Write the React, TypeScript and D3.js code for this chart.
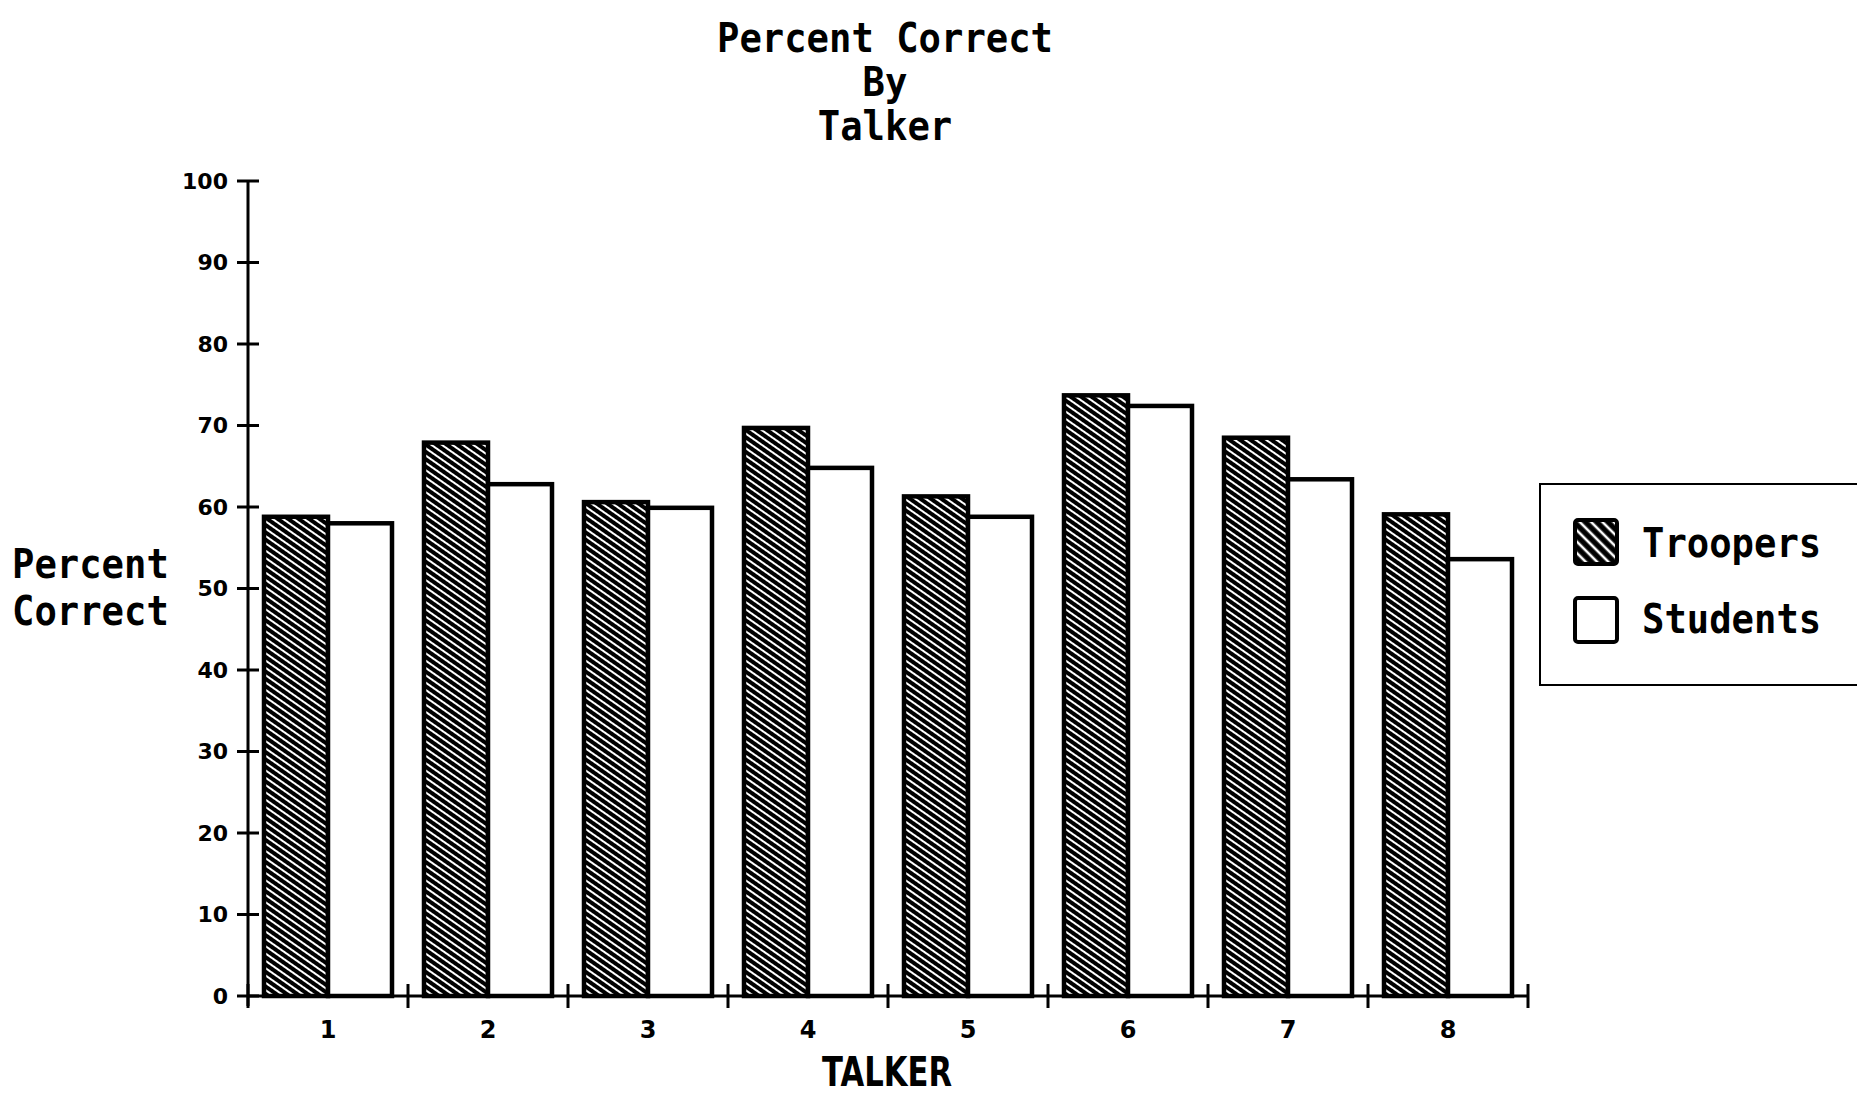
import React from "react";
import * as d3 from "d3";

const talkers = ["1", "2", "3", "4", "5", "6", "7", "8"];
const seriesNames = ["Troopers", "Students"];
const troopers = [58.8, 67.9, 60.6, 69.7, 61.3, 73.7, 68.5, 59.1];
const students = [58.0, 62.8, 59.9, 64.8, 58.8, 72.4, 63.4, 53.6];
const yTicks = [0, 10, 20, 30, 40, 50, 60, 70, 80, 90, 100];
const titleLines = ["Percent Correct", "By", "Talker"];
const yLabelLines = ["Percent", "Correct"];
const xLabel = "TALKER";

const W = 1857;
const H = 1096;
const MONO = "'DejaVu Sans Mono', monospace";
const SANS = "'DejaVu Sans', sans-serif";

export default function App() {
  const x0 = d3.scaleBand<string>().domain(talkers).range([248, 1528]).padding(0);
  const bw = x0.bandwidth();
  const x1 = d3.scaleBand<string>().domain(seriesNames).range([16, bw - 16]).padding(0);
  const y = d3.scaleLinear().domain([0, 100]).range([996, 181]);

  const values = [troopers, students];

  return (
    <svg
      width={W}
      height={H}
      style={{ position: "fixed", left: 0, top: 0, background: "#fff" }}
      viewBox={`0 0 ${W} ${H}`}
    >
      <defs>
        <pattern id="hatch" patternUnits="userSpaceOnUse" width={10} height={6} patternTransform="rotate(35)">
          <rect width={10} height={6} fill="#000" />
          <line x1={0} x2={10} y1={3} y2={3} stroke="#fff" strokeWidth={2} />
        </pattern>
        <pattern id="hatchLegend" patternUnits="userSpaceOnUse" width={10} height={8} patternTransform="rotate(45)">
          <rect width={10} height={8} fill="#000" />
          <line x1={0} x2={10} y1={4} y2={4} stroke="#fff" strokeWidth={2.6} />
        </pattern>
      </defs>
      <rect width={W} height={H} fill="#fff" />

      {/* title */}
      {titleLines.map((t, i) => (
        <text
          key={t}
          x={885}
          y={52 + i * 44}
          textAnchor="middle"
          fontFamily={MONO}
          fontWeight="bold"
          fontSize={40}
          textLength={t.length * 22.4}
          lengthAdjust="spacingAndGlyphs"
          fill="#000"
        >
          {t}
        </text>
      ))}

      {/* y label */}
      {yLabelLines.map((t, i) => (
        <text
          key={t}
          x={12}
          y={578 + i * 47}
          fontFamily={MONO}
          fontWeight="bold"
          fontSize={40}
          textLength={t.length * 22.4}
          lengthAdjust="spacingAndGlyphs"
          fill="#000"
        >
          {t}
        </text>
      ))}

      {/* bars */}
      {talkers.map((t, i) => (
        <g key={t} transform={`translate(${x0(t)},0)`}>
          {seriesNames.map((s, j) => {
            const v = values[j][i];
            return (
              <rect
                key={s}
                x={x1(s)}
                y={y(v)}
                width={x1.bandwidth()}
                height={y(0) - y(v)}
                fill={j === 0 ? "url(#hatch)" : "#fff"}
                stroke="#000"
                strokeWidth={4.5}
              />
            );
          })}
        </g>
      ))}

      {/* y axis */}
      <line x1={248} x2={248} y1={y(100)} y2={y(0) + 10} stroke="#000" strokeWidth={3} />
      {yTicks.map((v) => (
        <g key={v}>
          <line x1={237} x2={259} y1={y(v)} y2={y(v)} stroke="#000" strokeWidth={3} />
          <text
            x={228}
            y={y(v)}
            dy="0.36em"
            textAnchor="end"
            fontFamily={SANS}
            fontWeight="bold"
            fontSize={22}
            fill="#000"
          >
            {v}
          </text>
        </g>
      ))}

      {/* x axis */}
      <line x1={248} x2={1528} y1={y(0)} y2={y(0)} stroke="#000" strokeWidth={3} />
      {[...talkers.map((t) => x0(t) as number), 1528].map((xx, i) => (
        <line key={i} x1={xx} x2={xx} y1={y(0) - 12} y2={y(0) + 12} stroke="#000" strokeWidth={3} />
      ))}
      {talkers.map((t) => (
        <text
          key={t}
          x={(x0(t) as number) + bw / 2}
          y={1038}
          textAnchor="middle"
          fontFamily={SANS}
          fontWeight="bold"
          fontSize={24}
          fill="#000"
        >
          {t}
        </text>
      ))}
      <text
        x={887}
        y={1086}
        textAnchor="middle"
        fontFamily={SANS}
        fontWeight="bold"
        fontSize={40}
        textLength={130}
        lengthAdjust="spacingAndGlyphs"
        fill="#000"
      >
        {xLabel}
      </text>

      {/* legend */}
      <rect x={1540} y={484} width={340} height={201} fill="#fff" stroke="#000" strokeWidth={2} />
      {seriesNames.map((s, j) => (
        <g key={s}>
          <rect
            x={1575}
            y={520 + j * 78}
            width={42}
            height={44}
            rx={3}
            fill={j === 0 ? "url(#hatchLegend)" : "#fff"}
            stroke="#000"
            strokeWidth={4}
          />
          <text
            x={1642}
            y={557 + j * 76}
            fontFamily={MONO}
            fontWeight="bold"
            fontSize={40}
            textLength={s.length * 22.4}
            lengthAdjust="spacingAndGlyphs"
            fill="#000"
          >
            {s}
          </text>
        </g>
      ))}
    </svg>
  );
}
